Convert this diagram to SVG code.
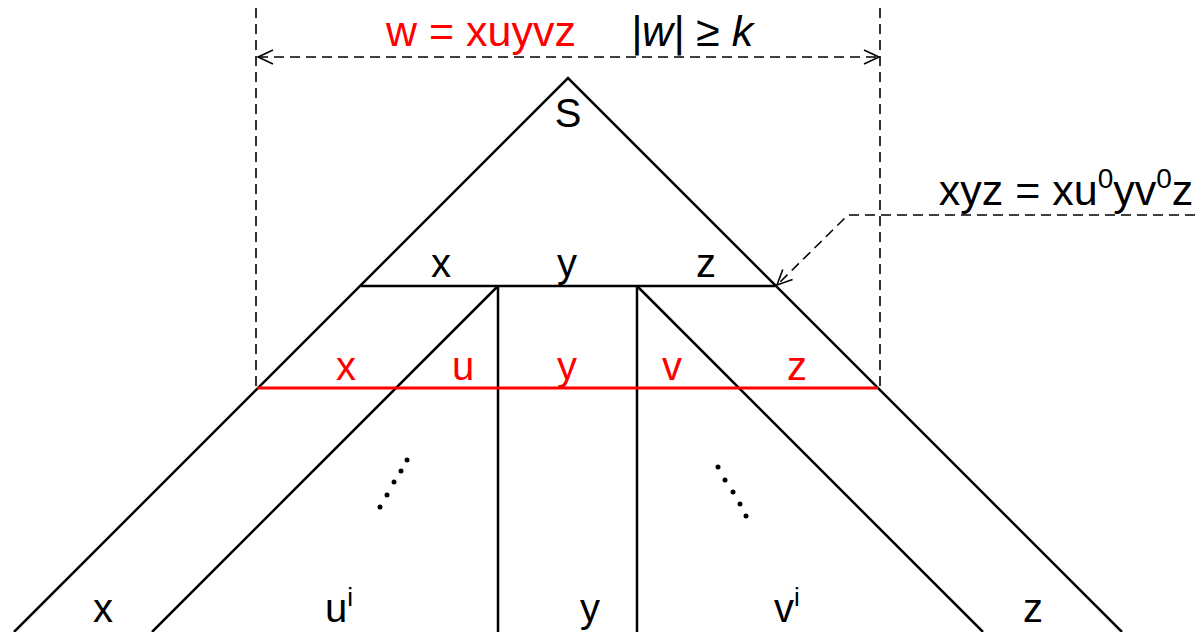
<svg xmlns="http://www.w3.org/2000/svg" width="1202" height="632" viewBox="0 0 1202 632">
<style>
.ln{stroke:#000;stroke-width:2.5;fill:none}
.red{stroke:#ff0000;stroke-width:3;fill:none}
.dash{stroke:#000;stroke-width:1.6;fill:none;stroke-dasharray:10,6}
.t{font-family:"Liberation Sans",Arial,sans-serif;font-size:40px;fill:#000;text-anchor:middle}
.big{font-size:43px}
.r{fill:#ff0000}
.dot{fill:#000}
</style>
<defs>
<marker id="oa" markerWidth="18" markerHeight="16" refX="16" refY="8" orient="auto-start-reverse" markerUnits="userSpaceOnUse">
<path d="M1,1 L16,8 L1,15" fill="none" stroke="#000" stroke-width="1.6"/>
</marker>
</defs>
<rect width="1202" height="632" fill="#fff"/>
<g id="connectors">
<line class="dash" x1="256" y1="8" x2="256" y2="388"/>
<line class="dash" x1="880" y1="8" x2="880" y2="388"/>
<line class="dash" x1="258" y1="57" x2="879" y2="57" marker-start="url(#oa)" marker-end="url(#oa)"/>
<polyline class="dash" points="1195,215 848,215 777,285" marker-end="url(#oa)"/>
</g>
<g id="tree">
<polyline class="ln" points="14,632 568,78 1122,632"/>
<line class="ln" x1="361" y1="286" x2="775" y2="286"/>
<line class="ln" x1="498" y1="286" x2="152" y2="632"/>
<line class="ln" x1="498" y1="286" x2="498" y2="632"/>
<line class="ln" x1="637" y1="286" x2="637" y2="632"/>
<line class="ln" x1="637" y1="286" x2="983" y2="632"/>
<line class="red" x1="257" y1="388" x2="878" y2="388"/>
</g>
<g id="dots-left">
<circle class="dot" cx="407" cy="460" r="2.5"/>
<circle class="dot" cx="401" cy="471" r="2.5"/>
<circle class="dot" cx="394" cy="482" r="2.5"/>
<circle class="dot" cx="387" cy="495" r="2.5"/>
<circle class="dot" cx="380" cy="507" r="2.5"/>
</g>
<g id="dots-right">
<circle class="dot" cx="718" cy="467" r="2.5"/>
<circle class="dot" cx="725" cy="480" r="2.5"/>
<circle class="dot" cx="733" cy="492" r="2.5"/>
<circle class="dot" cx="740" cy="504" r="2.5"/>
<circle class="dot" cx="746" cy="516" r="2.5"/>
</g>
<g id="labels">
<text class="t big r" x="481" y="46">w = xuyvz</text>
<text class="t big" x="692" y="46" font-style="italic">|w| ≥ k</text>
<text class="t" x="568" y="127">S</text>
<text class="t" x="441" y="277">x</text>
<text class="t" x="567" y="277">y</text>
<text class="t" x="706" y="277">z</text>
<text class="t r" x="346" y="380">x</text>
<text class="t r" x="463" y="380">u</text>
<text class="t r" x="567" y="380">y</text>
<text class="t r" x="672" y="380">v</text>
<text class="t r" x="797" y="380">z</text>
<text class="t big" x="1066" y="205">xyz = xu<tspan font-size="28" dy="-17">0</tspan><tspan dy="17">yv</tspan><tspan font-size="28" dy="-17">0</tspan><tspan dy="17">z</tspan></text>
<text class="t" x="103" y="622">x</text>
<text class="t" x="339" y="622">u<tspan font-size="26" dy="-16">i</tspan></text>
<text class="t" x="590" y="622">y</text>
<text class="t" x="787" y="622">v<tspan font-size="26" dy="-16">i</tspan></text>
<text class="t" x="1033" y="622">z</text>
</g>
</svg>
